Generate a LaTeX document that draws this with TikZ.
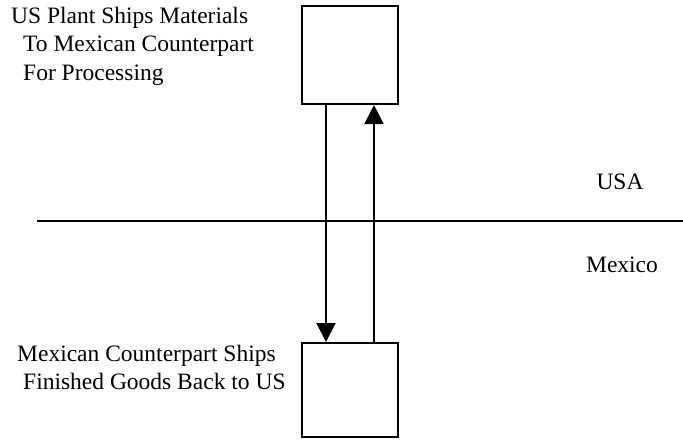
\documentclass[tikz,border=0pt]{standalone}
\usepackage{fontspec}
\setmainfont{Liberation Serif}
\usetikzlibrary{arrows.meta,positioning}
\tikzset{
    plantbox/.style={draw, line width=2, minimum width=96, minimum height=98, inner sep=0},
    flow/.style={line width=2, -{Triangle[length=19, width=19]}},
    note/.style={font=\fontsize{23.5}{28.3}\selectfont, align=left, inner sep=0, anchor=north west},
    side/.style={font=\fontsize{23.5}{28.3}\selectfont, inner sep=0}
}
\begin{document}
\begin{tikzpicture}[x=1pt, y=-1pt]
		\useasboundingbox (0, 0) rectangle (683, 440);

		\node[plantbox] (usplant) at (350, 55) {};
		\node[plantbox, minimum height=94] (mxplant) at (350, 390) {};

		\node[note] (shiptext) at (11, 7) {US Plant Ships Materials\\
			\hspace*{12pt}To Mexican Counterpart\\
			\hspace*{12pt}For Processing};
		\node[note] (backtext) at (17, 345) {Mexican Counterpart Ships\\
			\hspace*{6pt}Finished Goods Back to US};

		% border between the two countries
		\coordinate (borderW) at (37, 221);
		\coordinate (borderE) at (683, 221);
		\draw[line width=2] (borderW) -- (borderE);
		\node[side] (usa) at (620, 182) {USA};
		\node[side] (mexico) at (622, 265) {Mexico};

		\draw[flow] ([xshift=-24]usplant.south) -- ([xshift=-24]mxplant.north);
		\draw[flow] ([xshift=24]mxplant.north) -- ([xshift=24]usplant.south);
	\end{tikzpicture}
\end{document}
